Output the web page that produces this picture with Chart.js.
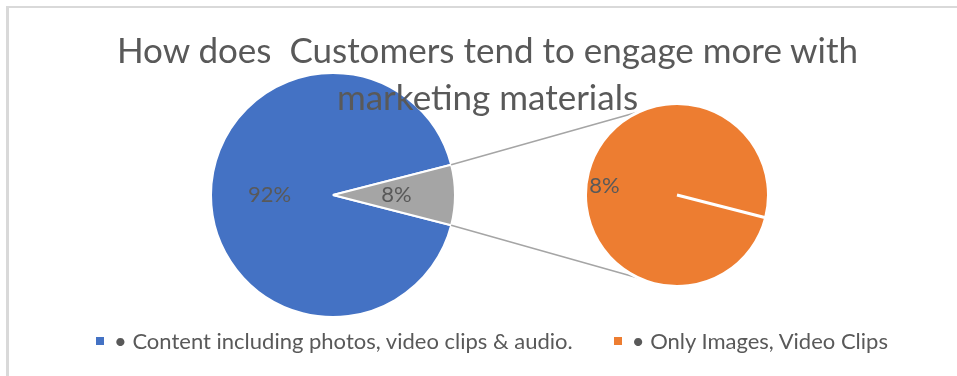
<!DOCTYPE html>
<html>
<head>
<meta charset="utf-8">
<script src="https://cdn.jsdelivr.net/npm/chart.js@4.4.1/dist/chart.umd.min.js"></script>
<style>
    body { margin: 0; background: #fff; }
    #wrap { position: relative; width: 957px; height: 376px; overflow: hidden; font-family: Lato, "Open Sans", sans-serif; color: #595959; }
    #frame { position: absolute; left: 6px; top: 6px; width: 1000px; height: 400px; border-top: 2px solid #d9d9d9; border-left: 3px solid #d9d9d9; }
    #mainChart { position: absolute; left: 0; top: 0; }
    #subChart { position: absolute; left: 584px; top: 102px; }
    #title { position: absolute; left: 0; top: 26px; width: 975px; text-align: center; font-size: 35px; line-height: 47px; white-space: pre; z-index: 5; }
    #legend { position: absolute; left: 96px; top: 327px; display: flex; align-items: center; font-size: 22px; line-height: 28px; white-space: pre; }
    #legend .item { display: flex; align-items: center; margin-right: 41px; }
    #legend .box { width: 8px; height: 8px; margin-right: 10px; }
</style>
</head>
<body>
<div id="wrap">
    <div id="frame"></div>
    <canvas id="mainChart" width="957" height="376"></canvas>
    <canvas id="subChart" width="186" height="186"></canvas>
    <div id="title">How does  Customers tend to engage more with
marketing materials</div>
    <div id="legend"></div>
</div>
<script>
var blue = "#4472C4";
var orange = "#ED7D31";
var grey = "#A5A5A5";

var categories = ["\u2022 Content including photos, video clips & audio.", "\u2022 Only Images, Video Clips"];
var shares = [92, 8];        // percent of respondents
var catColors = [blue, orange];

// the main pie keeps the first point, everything after it goes into "Other"
var otherShare = shares.slice(1).reduce((a, b) => a + b, 0);
var mainValues = [shares[0], otherShare];
var subValues = shares.slice(1);
// "Other" sits centred on the right-hand side of the main pie
var rotation = 90 + otherShare / 100 * 180;

// percent labels inside each slice
var pctLabels = {
    id: "pctLabels",
    afterDatasetsDraw(chart, args, opts) {
        var ctx = chart.ctx;
        var meta = chart.getDatasetMeta(0);
        var data = chart.data.datasets[0].data;
        ctx.save();
        ctx.font = "22px Lato";
        ctx.fillStyle = "#595959";
        ctx.textAlign = "center";
        ctx.textBaseline = "middle";
        meta.data.forEach((arc, i) => {
            var mid = (arc.startAngle + arc.endAngle) / 2 + (opts.turn || 0);
            var d = arc.outerRadius * opts.dist;
            ctx.fillText(data[i] + "%", arc.x + Math.cos(mid) * d, arc.y + Math.sin(mid) * d);
        });
        ctx.restore();
    }
};

var subChart = new Chart("subChart", {
    type: "pie",
    data: {
        labels: categories.slice(1),
        datasets: [{
            data: subValues,
            backgroundColor: catColors.slice(1),
            borderColor: "#fff",
            borderWidth: 3,
        }],
    },
    options: {
        responsive: false,
        animation: false,
        rotation: rotation,
        plugins: {
            legend: { display: false },
            tooltip: { enabled: false },
            pctLabels: { dist: 0.8, turn: -0.12 },
        },
    },
    plugins: [pctLabels],
});

// grey lines from the "Other" slice out to the second pie
var connectors = {
    id: "connectors",
    afterDatasetsDraw(chart) {
        var other = chart.getDatasetMeta(0).data[1];
        var sub = subChart.getDatasetMeta(0).data[0];
        var sc = subChart.canvas;
        var cx = sub.x + sc.offsetLeft - chart.canvas.offsetLeft;
        var cy = sub.y + sc.offsetTop - chart.canvas.offsetTop;
        var reach = 115 * Math.PI / 180;
        var ctx = chart.ctx;
        ctx.save();
        ctx.strokeStyle = grey;
        ctx.lineWidth = 1.5;
        ctx.beginPath();
        ctx.moveTo(other.x + Math.cos(other.startAngle) * other.outerRadius, other.y + Math.sin(other.startAngle) * other.outerRadius);
        ctx.lineTo(cx + Math.cos(-reach) * sub.outerRadius, cy + Math.sin(-reach) * sub.outerRadius);
        ctx.moveTo(other.x + Math.cos(other.endAngle) * other.outerRadius, other.y + Math.sin(other.endAngle) * other.outerRadius);
        ctx.lineTo(cx + Math.cos(reach) * sub.outerRadius, cy + Math.sin(reach) * sub.outerRadius);
        ctx.stroke();
        ctx.restore();
    }
};

new Chart("mainChart", {
    type: "pie",
    data: {
        labels: [categories[0], "Other"],
        datasets: [{
            data: mainValues,
            backgroundColor: [blue, grey],
            borderColor: "#fff",
            borderWidth: 2,
        }],
    },
    options: {
        responsive: false,
        animation: false,
        rotation: rotation,
        layout: { padding: { left: 210, top: 72, right: 501, bottom: 58 } },
        plugins: {
            legend: { display: false },
            tooltip: { enabled: false },
            pctLabels: { dist: 0.52 },
        },
    },
    plugins: [pctLabels, connectors],
});

// legend row under the pies
var legend = document.getElementById("legend");
categories.forEach((name, i) => {
    var item = document.createElement("div");
    item.className = "item";
    var box = document.createElement("span");
    box.className = "box";
    box.style.background = catColors[i];
    var txt = document.createElement("span");
    txt.textContent = name;
    item.appendChild(box);
    item.appendChild(txt);
    legend.appendChild(item);
});
</script>
</body>
</html>
